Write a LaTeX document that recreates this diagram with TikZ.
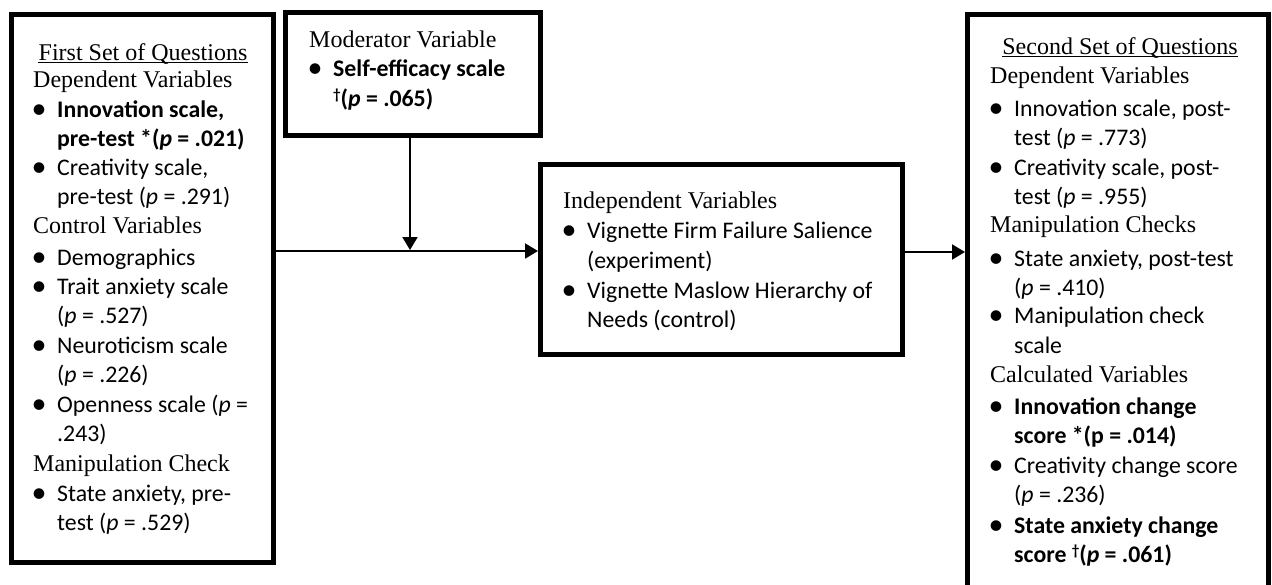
\documentclass[tikz,border=0pt]{standalone}
\usepackage{fontspec}
\setmainfont{Liberation Serif}
\newfontfamily\calfont{Carlito}
\usetikzlibrary{arrows.meta}
\newcommand\bul{\llap{\makebox[36pt]{\raisebox{-1.2pt}{\fontsize{30}{29}\selectfont •}}}}
\newcommand\mydagger{\raisebox{7pt}{\fontsize{15}{15}\selectfont †}}
\begin{document}
\begin{tikzpicture}[x=1pt,y=-1pt,
  box/.style={draw, line width=5pt, rectangle, inner sep=0pt},
  hd/.style={anchor=base west, inner sep=0pt, font=\fontsize{24}{29}\selectfont},
  hdc/.style={hd, anchor=base},
  tx/.style={anchor=base west, inner sep=0pt, font=\calfont\fontsize{23.8}{29}\selectfont},
  conn/.style={line width=2pt, -{Triangle[length=13pt,width=15pt]}},
  ul/.style={line width=1.3pt}]
\useasboundingbox (0,0) rectangle (1272,584);
\clip (0,0) rectangle (1272,584);
% boxes
\node[box, minimum width=262pt, minimum height=548pt] (b1) at (142.5,288.5) {};
\node[box, minimum width=255pt, minimum height=123pt] (b2) at (413,74) {};
\node[box, minimum width=362pt, minimum height=190pt] (b3) at (721.5,259.5) {};
\node[box, minimum width=301pt, minimum height=605pt] (b4) at (1118,317) {};
% connectors
\coordinate (hl) at (410,251);
\coordinate (tip) at (410,250);
\coordinate (rl) at (930,252);
\draw[conn] (b1.east |- hl) -- (b3.west |- hl);
\draw[conn] (b2.south -| tip) -- (tip);
\draw[conn] (b3.east |- rl) -- (b4.west |- rl);
% box 1
\node[hdc] (a0) at (143,60) {First Set of Questions};
\draw[ul] ([yshift=-2.5pt]a0.base west) -- ([yshift=-2.5pt]a0.base east);
\node[hd] (a1) at (33,87) {Dependent Variables};
\node[tx] (a2) at (57,117) {\bul\textbf{Innovation scale,}};
\node[tx] (a3) at (57,146) {\textbf{pre-test *(\textit{p} = .021)}};
\node[tx] (a4) at (57,175) {\bul Creativity scale,};
\node[tx] (a5) at (57,204) {pre-test (\textit{p} = .291)};
\node[hd] (a6) at (33,233) {Control Variables};
\node[tx] (a7) at (57,265) {\bul Demographics};
\node[tx] (a8) at (57,294) {\bul Trait anxiety scale};
\node[tx] (a9) at (57,323) {(\textit{p} = .527)};
\node[tx] (a10) at (57,353) {\bul Neuroticism scale};
\node[tx] (a11) at (57,382) {(\textit{p} = .226)};
\node[tx] (a12) at (57,412) {\bul Openness scale (\textit{p} =};
\node[tx] (a13) at (57,441) {.243)};
\node[hd] (a14) at (33,471) {Manipulation Check};
\node[tx] (a15) at (57,501) {\bul State anxiety, pre-};
\node[tx] (a16) at (57,530) {test (\textit{p} = .529)};
% box 2
\node[hd] (m0) at (309,47) {Moderator Variable};
\node[tx] (m1) at (333,76) {\bul\textbf{Self-efficacy scale}};
\node[tx] (m2) at (333,106) {\textbf{\mydagger(\textit{p} = .065)}};
% box 3
\node[hd] (i0) at (563,208) {Independent Variables};
\node[tx] (i1) at (587,238) {\bul Vignette Firm Failure Salience};
\node[tx] (i2) at (587,268) {(experiment)};
\node[tx] (i3) at (587,298) {\bul Vignette Maslow Hierarchy of};
\node[tx] (i4) at (587,327) {Needs (control)};
% box 4
\node[hdc] (s0) at (1120,54) {Second Set of Questions};
\draw[ul] ([yshift=-2.5pt]s0.base west) -- ([yshift=-2.5pt]s0.base east);
\node[hd] (s1) at (990,83) {Dependent Variables};
\node[tx] (s2) at (1014,116) {\bul Innovation scale, post-};
\node[tx] (s3) at (1014,145) {test (\textit{p} = .773)};
\node[tx] (s4) at (1014,175) {\bul Creativity scale, post-};
\node[tx] (s5) at (1014,204) {test (\textit{p} = .955)};
\node[hd] (s6) at (990,232) {Manipulation Checks};
\node[tx] (s7) at (1014,266) {\bul State anxiety, post-test};
\node[tx] (s8) at (1014,295) {(\textit{p} = .410)};
\node[tx] (s9) at (1014,323) {\bul Manipulation check};
\node[tx] (s10) at (1014,353) {scale};
\node[hd] (s11) at (990,382) {Calculated Variables};
\node[tx] (s12) at (1014,414) {\bul\textbf{Innovation change}};
\node[tx] (s13) at (1014,443) {\textbf{score *(p = .014)}};
\node[tx] (s14) at (1014,473) {\bul Creativity change score};
\node[tx] (s15) at (1014,502) {(\textit{p} = .236)};
\node[tx] (s16) at (1014,533) {\bul\textbf{State anxiety change}};
\node[tx] (s17) at (1014,562) {\textbf{score \mydagger(\textit{p} = .061)}};
\end{tikzpicture}
\end{document}
